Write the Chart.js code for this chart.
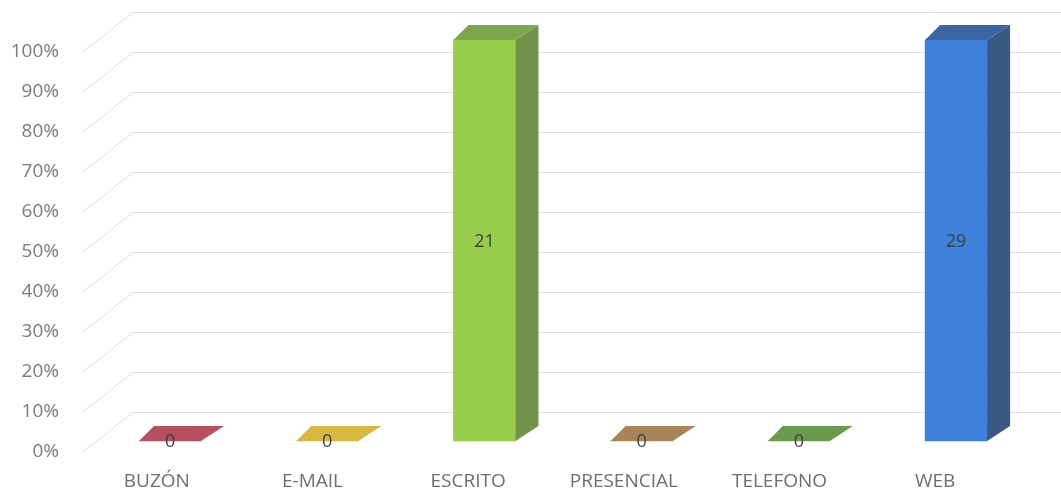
<!DOCTYPE html>
<html>
<head>
<meta charset="utf-8">
<script src="https://cdn.jsdelivr.net/npm/chart.js@4"></script>
<style>
  html, body { margin: 0; padding: 0; background: #fff; }
  #wrap { width: 1061px; height: 495px; }
</style>
</head>
<body>
<div id="wrap"><canvas id="chart"></canvas></div>
<script>
// datos
const categories = ['BUZÓN', 'E-MAIL', 'ESCRITO', 'PRESENCIAL', 'TELEFONO', 'WEB'];
const counts = [0, 0, 21, 0, 0, 29];
// columna 100% apilada con una sola serie: cada categoria con valor llega al 100%
const percents = counts.map(c => (c > 0 ? 100 : 0));

// colores
const frontColors = ['#b6505e', '#d6b840', '#98cd4b', '#a88458', '#6a9a4c', '#3f82dc'];
const sideColors = ['#96404c', '#b09630', '#6f9447', '#8a6a44', '#557d3c', '#395985'];
const topColors = ['#b6505e', '#d6b840', '#7da64d', '#a88458', '#6a9a4c', '#3c66a2'];

// profundidad 3D
const depth = { left: 15, right: 23, up: 15 };
const wallShift = { x: 51, y: -40 };

function poly(ctx, pts, color) {
    ctx.beginPath();
    ctx.moveTo(pts[0][0], pts[0][1]);
    for (let k = 1; k < pts.length; k++) ctx.lineTo(pts[k][0], pts[k][1]);
    ctx.closePath();
    ctx.fillStyle = color;
    ctx.fill();
}

const wallPlugin = {
    id: 'wall',
    beforeDatasetsDraw(chart) {
        const ctx = chart.ctx;
        const y = chart.scales.y;
        const left = chart.chartArea.left + 3;
        ctx.save();
        ctx.strokeStyle = '#e0e0e0';
        ctx.lineWidth = 1;
        y.ticks.forEach(t => {
            const py = y.getPixelForValue(t.value);
            ctx.beginPath();
            ctx.moveTo(left, py + 0.5);
            ctx.lineTo(left + wallShift.x, py + wallShift.y + 0.5);
            ctx.lineTo(chart.width, py + wallShift.y + 0.5);
            ctx.stroke();
        });
        ctx.restore();
    }
};

const boxPlugin = {
    id: 'box3d',
    afterDatasetsDraw(chart) {
        const ctx = chart.ctx;
        const meta = chart.getDatasetMeta(0);
        ctx.save();
        meta.data.forEach((bar, i) => {
            const p = bar.getProps(['x', 'y', 'base', 'width'], true);
            const l = p.x - p.width / 2, r = p.x + p.width / 2;
            if (p.base - p.y > 0.5) {
                poly(ctx, [[r, p.y], [r + depth.right, p.y - depth.up],
                           [r + depth.right, p.base - depth.up], [r, p.base]], sideColors[i]);
            }
            poly(ctx, [[l, p.y], [r, p.y], [r + depth.right, p.y - depth.up],
                       [l + depth.left, p.y - depth.up]], topColors[i]);
        });
        // etiquetas de datos
        ctx.fillStyle = '#404040';
        ctx.font = '18px "Open Sans"';
        ctx.textAlign = 'center';
        ctx.textBaseline = 'middle';
        meta.data.forEach((bar, i) => {
            const p = bar.getProps(['x', 'y', 'base'], true);
            ctx.fillText(String(counts[i]), p.x, (p.y + p.base) / 2 + 1);
        });
        ctx.restore();
    }
};

const ctx = document.getElementById('chart').getContext('2d');
new Chart(ctx, {
    type: 'bar',
    data: {
        labels: categories,
        datasets: [{
            data: percents.map((v, i) => ({ x: i, y: v })),
            backgroundColor: frontColors,
            borderWidth: 0,
            barThickness: 62,
            xAxisID: 'xb',
            yAxisID: 'yb',
            clip: false
        }]
    },
    options: {
        responsive: true,
        maintainAspectRatio: false,
        animation: false,
        layout: { padding: { top: 52, right: 48, left: 0, bottom: 0 } },
        plugins: {
            legend: { display: false },
            tooltip: { enabled: false }
        },
        scales: {
            x: {
                type: 'category',
                grid: { display: false, drawTicks: false },
                border: { display: false },
                ticks: { color: '#6e6e6e', font: { family: 'Open Sans', size: 19 }, padding: 18, maxRotation: 0 },
                afterFit: s => { s.height = 43; }
            },
            y: {
                type: 'linear',
                min: 0,
                max: 100,
                grid: { display: false, drawTicks: false },
                border: { display: false },
                ticks: {
                    stepSize: 10,
                    color: '#7a7a7a',
                    font: { family: 'Open Sans', size: 19 },
                    padding: 20,
                    callback: v => v + '%'
                },
                afterFit: s => { s.width = 79; }
            },
            // ejes ocultos para las columnas (plano de las barras)
            xb: { type: 'linear', display: false, offset: false, min: -0.579, max: 5.362 },
            yb: { type: 'linear', display: false, offset: false, min: -2.743, max: 97.008 }
        }
    },
    plugins: [wallPlugin, boxPlugin]
});
</script>
</body>
</html>
